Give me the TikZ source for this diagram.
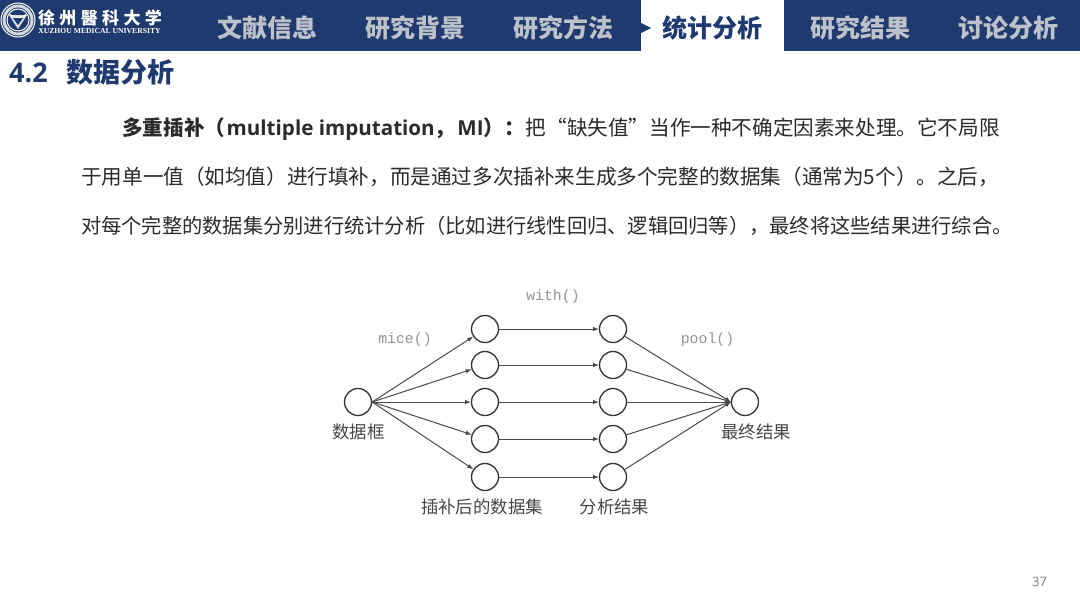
\documentclass[tikz,border=0pt]{standalone}
\usepackage{fontspec}
\setmainfont{Noto Sans CJK SC}
\newfontfamily\latinfont{Open Sans}
\newfontfamily\logofont{Liberation Serif}
\newfontfamily\codefont{Liberation Mono}
\definecolor{navy}{HTML}{1F3A6E}
\definecolor{tabgray}{HTML}{BCC1CA}
\definecolor{bodyink}{HTML}{2B2B2B}
\definecolor{lineink}{HTML}{4A4A4A}
\tikzset{
	tabtext/.style={font=\fontsize{25}{28}\selectfont\bfseries, text=tabgray, inner sep=0pt},
	bodyline/.style={anchor=base west, inner sep=0pt, text=bodyink, font=\fontsize{#1}{24}\selectfont},
	ball/.style={circle, draw=black!80, line width=1.3pt, minimum size=27pt, inner sep=0pt},
	flow/.style={->, draw=lineink, line width=1pt},
	fnlabel/.style={font=\fontsize{14.8}{16}\codefont, text=black!42, inner sep=0pt},
	cnlabel/.style={font=\fontsize{17.4}{20}\selectfont, text=black!72, inner sep=0pt},
}
\begin{document}
\begin{tikzpicture}[>=latex, x=1pt, y=-1pt]
	\useasboundingbox (0,0) rectangle (1080,608);
	\fill[white] (0,0) rectangle (1080,608);

	% header band
	\fill[navy] (0,0) rectangle (1080,50.5);
	\fill[white] (641,0) rectangle (784,50.5);
	\fill[navy] (641,23) -- (651,28) -- (641,33) -- cycle;

	% emblem
	\draw[white, line width=1pt] (18,20) circle (17);
	\draw[white!80!navy, line width=3pt] (18,20) circle (14);
	\draw[white, line width=1pt] (18,20) circle (11);
	\fill[white!85!navy] (9,15) -- (27,15) -- (18,29) -- cycle;
	\fill[navy] (13,18) -- (23,18) -- (18,25) -- cycle;
	\draw[white, line width=0.8pt] (10,14) arc (200:340:8.5 and -5);

	\node[text=white, inner sep=0pt, font=\fontsize{17}{20}\selectfont\bfseries] (schoolcn) at (100,17.5)
		{徐\hspace{4.4pt}州\hspace{4.4pt}醫\hspace{4.4pt}科\hspace{4.4pt}大\hspace{4.4pt}学};
	\node[text=white, inner sep=0pt, font=\fontsize{7.65}{10}\logofont\bfseries] (schoolen) at (99.5,31.5)
		{XUZHOU MEDICAL UNIVERSITY};

	% tabs
	\node[tabtext] (tabinfo) at (267.5,28) {文献信息};
	\node[tabtext] (tabback) at (415.5,28) {研究背景};
	\node[tabtext] (tabmeth) at (563.5,28) {研究方法};
	\node[tabtext, text=navy] (tabstat) at (712,28) {统计分析};
	\node[tabtext] (tabres) at (860,28) {研究结果};
	\node[tabtext] (tabdisc) at (1008,28) {讨论分析};

	% heading
	\node[anchor=base west, inner sep=0pt, text=navy, font=\fontsize{27}{30}\latinfont\bfseries] (secnum) at (9,82) {4.2};
	\node[anchor=base west, inner sep=0pt, text=navy, font=\fontsize{27}{30}\selectfont\bfseries] (sectitle) at (66,82) {数据分析};

	% body text
	\node[bodyline=20.6] (lineone) at (122,135) {{\bfseries 多重插补（\hspace{1.5pt}{\latinfont multiple imputation}，\hspace{2pt}{\latinfont MI}）：\hspace{1pt}}把“缺失值”当作一种不确定因素来处理。它不局限};
	\node[bodyline=20.6] (linetwo) at (81,184) {于用单一值（如均值）进行填补，而是通过多次插补来生成多个完整的数据集（通常为5个）。之后，};
	\node[bodyline=20.25] (linethree) at (81,233) {对每个完整的数据集分别进行统计分析（比如进行线性回归、逻辑回归等），最终将这些结果进行综合。};

	% network
	\node[ball] (df) at (358,402) {};

	\node[ball] (imp1) at (485,329) {};
	\node[ball] (imp2) at (485,365) {};
	\node[ball] (imp3) at (485,402) {};
	\node[ball] (imp4) at (485,439) {};
	\node[ball] (imp5) at (485,477) {};

	\node[ball] (fit1) at (613,329) {};
	\node[ball] (fit2) at (613,365) {};
	\node[ball] (fit3) at (613,402) {};
	\node[ball] (fit4) at (613,439) {};
	\node[ball] (fit5) at (613,477) {};

	\node[ball] (final) at (745,402) {};

	\draw[flow] (df.east) -- (imp1);
	\draw[flow] (df.east) -- (imp2);
	\draw[flow] (df.east) -- (imp3);
	\draw[flow] (df.east) -- (imp4);
	\draw[flow] (df.east) -- (imp5);

	\draw[flow] (imp1) -- (fit1);
	\draw[flow] (imp2) -- (fit2);
	\draw[flow] (imp3) -- (fit3);
	\draw[flow] (imp4) -- (fit4);
	\draw[flow] (imp5) -- (fit5);

	\draw[flow] (fit1) -- (final.west);
	\draw[flow] (fit2) -- (final.west);
	\draw[flow] (fit3) -- (final.west);
	\draw[flow] (fit4) -- (final.west);
	\draw[flow] (fit5) -- (final.west);

	\node[fnlabel] (micelab) at (405,340) {mice()};
	\node[fnlabel] (withlab) at (553,297) {with()};
	\node[fnlabel] (poollab) at (707.5,340) {pool()};

	\node[cnlabel] (dflab) at (358.5,432) {数据框};
	\node[cnlabel] (implab) at (482,507) {插补后的数据集};
	\node[cnlabel] (fitlab) at (614.5,507) {分析结果};
	\node[cnlabel] (finallab) at (756,432) {最终结果};

	\node[inner sep=0pt, text=black!50, font=\fontsize{13}{15}\latinfont] (pagenum) at (1039.5,582) {37};
\end{tikzpicture}
\end{document}
